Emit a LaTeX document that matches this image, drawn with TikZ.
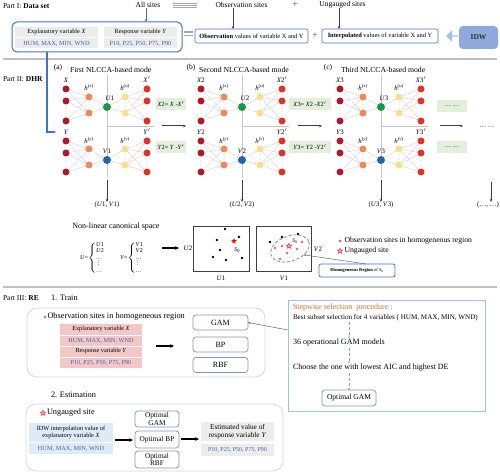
\documentclass[tikz,border=0pt]{standalone}
\usepackage{fontspec}
\setmainfont{Liberation Serif}
\usetikzlibrary{arrows.meta,shapes.geometric,shapes.arrows,calc}
\definecolor{cin}{RGB}{178,24,43}
\definecolor{chid}{RGB}{241,136,92}
\definecolor{cun}{RGB}{26,152,72}
\definecolor{chu}{RGB}{254,222,140}
\definecolor{cout}{RGB}{224,50,40}
\definecolor{cvn}{RGB}{33,102,172}
\definecolor{lgreen}{RGB}{226,239,218}
\definecolor{lpink}{RGB}{243,199,197}
\definecolor{lgray}{RGB}{236,236,236}
\definecolor{lblue}{RGB}{222,235,247}
\definecolor{tblue}{RGB}{64,100,178}
\definecolor{bblue}{RGB}{68,114,196}
\definecolor{mbord}{RGB}{132,151,176}
\definecolor{idwc}{RGB}{142,169,219}
\definecolor{arrc}{RGB}{157,195,230}
\definecolor{sepc}{RGB}{191,191,191}
\definecolor{orc}{RGB}{214,110,50}
\definecolor{redpt}{RGB}{238,96,96}
\newcommand{\fzz}[2]{\fontsize{#1}{#2}\selectfont}
\newcommand{\iv}[1]{\textit{#1}}
\newcommand{\smvd}{\vbox{\baselineskip2.2pt\lineskiplimit0pt\hbox{.}\hbox{.}\hbox{.}}}
\tikzset{
  every node/.style={inner sep=0pt,outer sep=0pt},
  neur/.style={circle,minimum size=7pt,draw=none},
  inn/.style={neur,fill=cin},
  hidn/.style={neur,fill=chid},
  hun/.style={neur,fill=chu},
  outn/.style={neur,fill=cout},
  unode/.style={neur,minimum size=8pt,fill=cun},
  vnode/.style={neur,minimum size=8pt,fill=cvn},
  conn/.style={draw=gray!40,line width=0.3pt,-{Stealth[length=1.6pt,width=1.4pt]}},
  axisl/.style={draw=gray!45,line width=0.6pt},
  lab/.style={font=\fzz{6.8}{7}},
  gbox/.style={fill=lgreen,minimum width=30pt,minimum height=12pt,font=\fzz{6.3}{7}},
  darr/.style={draw=black!75,line width=1pt,-{Stealth[length=3pt,width=2.6pt]}},
  karr/.style={draw=black,line width=1.3pt,-{Stealth[length=4pt,width=3.6pt]}},
  thinarr/.style={draw=gray!80!black,line width=0.5pt,-{Stealth[length=2.5pt,width=2pt]}},
  barr/.style={draw=bblue,line width=1.3pt,-{Stealth[length=3pt,width=2.6pt]}},
  sepl/.style={draw=sepc,line width=1.1pt},
  eqline/.style={draw=gray!70,line width=1.2pt},
  cell/.style={fill=lgray,minimum height=10pt,font=\fzz{6.3}{7}},
  obox/.style={draw=bblue,line width=0.6pt,rounded corners=2pt,minimum width=113pt,minimum height=14pt,font=\fzz{6.4}{7}},
  mbox/.style={draw=mbord,line width=0.7pt,rounded corners=3pt,minimum width=55pt,minimum height=15pt,font=\fzz{8}{8}},
  ombox/.style={draw=mbord,line width=0.7pt,rounded corners=3pt,minimum width=44pt,font=\fzz{7.3}{7.8},align=center},
  pcell/.style={fill=lpink,minimum width=82pt,minimum height=11pt,font=\fzz{6.2}{7}},
  rbox/.style={draw=gray!30,line width=0.8pt,rounded corners=10pt},
  txt/.style={anchor=west,font=\fzz{7.5}{9}},
  ctxt/.style={anchor=west,font=\fzz{8.3}{9}},
  stt/.style={anchor=west,font=\fzz{8}{9}},
  rstar/.style={star,star points=5,star point ratio=2.3,minimum size=6pt,draw=red!80,fill=red!25,line width=0.5pt},
  bluedash/.style={draw=arrc!80!blue,line width=0.6pt,densely dashed,-{Stealth[length=2pt,width=2pt]}},
}
\newcommand{\nlmode}[8]{%
\begin{scope}[xshift=#2]
 \draw[axisl] (107,75) -- (107,178);
 \draw[axisl] (107,126) -- (154,126);
 \foreach \k/\yy in {1/89,2/101,3/121}{
   \node[inn] (#1xi\k) at (66,\yy) {};
   \node[outn] (#1xo\k) at (147,\yy) {};}
 \foreach \k/\yy in {1/141,2/153,3/172}{
   \node[inn] (#1yi\k) at (66,\yy) {};
   \node[outn] (#1yo\k) at (147,\yy) {};}
 \foreach \k/\yy in {1/97,2/113}{
   \node[hidn] (#1xh\k) at (89,\yy) {};
   \node[hun] (#1uh\k) at (125,\yy) {};}
 \foreach \k/\yy in {1/149,2/165}{
   \node[hidn] (#1yh\k) at (89,\yy) {};
   \node[hun] (#1vh\k) at (125,\yy) {};}
 \node[unode] (#1u) at (107,107) {};
 \node[vnode] (#1v) at (107,160) {};
 \foreach \i in {1,2,3}{\foreach \j in {1,2}{
   \draw[conn] (#1xi\i) -- (#1xh\j);
   \draw[conn] (#1uh\j) -- (#1xo\i);
   \draw[conn] (#1yi\i) -- (#1yh\j);
   \draw[conn] (#1vh\j) -- (#1yo\i);}}
 \foreach \j in {1,2}{
   \draw[conn] (#1xh\j) -- (#1u);
   \draw[conn] (#1u) -- (#1uh\j);
   \draw[conn] (#1yh\j) -- (#1v);
   \draw[conn] (#1v) -- (#1vh\j);}
 \foreach \xx/\yy in {66/111,147/111,66/163,147/163,89/105,125/105,89/157,125/157}{
   \foreach \dd in {-2.2,0,2.2} \fill[gray!70] (\xx,\yy+\dd) circle (0.4pt);}
 \node[lab] (#1lx) at (66,80) {#3};
 \node[lab] (#1lxo) at (147,80) {#4};
 \node[lab] (#1ly) at (66,132) {#5};
 \node[lab] (#1lyo) at (147,132) {#6};
 \node[lab] (#1lhx) at (89,87) {\iv{h}\textsuperscript{(\iv{x})}};
 \node[lab] (#1lhu) at (125,87) {\iv{h}\textsuperscript{(\iv{u})}};
 \node[lab] (#1lhy) at (89,140) {\iv{h}\textsuperscript{(\iv{y})}};
 \node[lab] (#1lhv) at (125,140) {\iv{h}\textsuperscript{(\iv{v})}};
 \node[lab] (#1lu) at (110,98) {#7};
 \node[lab] (#1lv) at (107,151) {#8};
\end{scope}}
\begin{document}
\begin{tikzpicture}[x=1pt,y=-1pt]
\useasboundingbox (0,0) rectangle (500,473);
\fill[white] (0,0) rectangle (500,473);

% ---------- Part I
\node[txt] (p1) at (3,6) {Part I: \textbf{Data set}};
\node[font=\fzz{7.5}{9}] (alls) at (148,5) {All sites};
\node[font=\fzz{7.5}{9}] (obss) at (241.5,5) {Observation sites};
\node[font=\fzz{7.5}{9}] (ungs) at (342.5,5) {Ungauged sites};
\draw[eqline] (173,3.4) -- (197,3.4);
\draw[eqline] (173,5.4) -- (197,5.4);
\draw[eqline] (173,7.4) -- (197,7.4);
\node[font=\bfseries\fzz{10}{10},text=gray] (plus1) at (295,5) {+};

\node[draw=bblue,line width=1pt,rounded corners=5pt,minimum width=170pt,minimum height=30pt] (ds) at (97,37) {};
\node[cell,minimum width=83pt] (exh) at (56.5,32) {Explanatory variable \iv{X}};
\node[cell,minimum width=83pt,text=tblue] (exv) at (56.5,43.5) {HUM, MAX, MIN, WND};
\node[cell,minimum width=73pt] (reh) at (140.5,32) {Response variable \iv{Y}};
\node[cell,minimum width=73pt,text=tblue] (rev) at (140.5,43.5) {P10, P25, P50, P75, P90};
\draw[barr,line width=1pt] ([xshift=-2pt]alls.south) -- ([xshift=-2pt]alls.south |- ds.north);

\draw[eqline] (184,32) -- (193,32);
\draw[eqline] (184,35.5) -- (193,35.5);
\node[obox] (ob) at (251.5,36) {\textbf{Observation} values of variable X and Y};
\node[font=\bfseries\fzz{10}{10},text=gray] (plus2) at (315,36) {+};
\node[obox,minimum width=116pt] (ip) at (380,36) {\textbf{Interpolated} values of variable X and Y};
\draw[darr,line width=0.8pt] ([xshift=-8.5pt]obss.south) -- ([xshift=-8.5pt]obss.south |- ob.north);
\draw[darr,line width=0.8pt] ([xshift=-3.5pt]ungs.south) -- ([xshift=-3.5pt]ungs.south |- ip.north);
\node[single arrow,fill=arrc,minimum height=12pt,minimum width=12pt,single arrow head extend=1.5pt,shape border rotate=180] (blk) at (452.5,36) {};
\node[fill=idwc,rounded corners=4pt,minimum width=39pt,minimum height=23pt,font=\bfseries\fzz{7.5}{9},text=black!80] (idw) at (478.5,37.5) {IDW};

\draw[sepl] (3,59) -- (497,59);
\coordinate (ylead) at (56,132);
\draw[barr] ([xshift=-50pt]ds.south) |- (ylead);

% ---------- Part II
\node[txt] (p2) at (3,79) {Part II: \textbf{DHR}};
\node[font=\fzz{7.5}{8}] (ta) at (58,68) {(a)};
\node[anchor=west,font=\fzz{7.7}{8}] (tta) at (70,70) {First NLCCA-based mode};
\node[font=\fzz{7.5}{8}] (tb) at (191,68) {(b)};
\node[anchor=west,font=\fzz{7.7}{8}] (ttb) at (199,70) {Second NLCCA-based mode};
\node[font=\fzz{7.5}{8}] (tc) at (328,68) {(c)};
\node[anchor=west,font=\fzz{7.7}{8}] (ttc) at (341,70) {Third NLCCA-based mode};

\nlmode{a}{0pt}{\iv{X}}{\iv{X}$'$}{\iv{Y}}{\iv{Y}$'$}{\iv{U}1}{\iv{V}1}
\nlmode{b}{135pt}{\iv{X}2}{\iv{X}2$'$}{\iv{Y}2}{\iv{Y}2$'$}{\iv{U}2}{\iv{V}2}
\nlmode{c}{274pt}{\iv{X}3}{\iv{X}3$'$}{\iv{Y}3}{\iv{Y}3$'$}{\iv{U}3}{\iv{V}3}

\node[gbox] (rx2) at (171,104) {\iv{X}2= \iv{X} -\iv{X}$'$};
\node[gbox] (ry2) at (171,147) {\iv{Y}2= \iv{Y} -\iv{Y}$'$};
\node[gbox,minimum width=42pt] (rx3) at (310,104) {\iv{X}3= \iv{X}2 -\iv{X}2$'$};
\node[gbox,minimum width=42pt] (ry3) at (310,147) {\iv{Y}3= \iv{Y}2 -\iv{Y}2$'$};
\node[gbox] (rx4) at (452,106) {\dots\ \dots};
\node[gbox] (ry4) at (452,147.5) {\dots\ \dots};

\coordinate (m1s) at (162,126); \coordinate (m1e) at (186,126);
\coordinate (m2s) at (298,126); \coordinate (m2e) at (322,126);
\coordinate (m3s) at (440,126); \coordinate (m3e) at (463,126);
\draw[darr] (m1s) -- (m1e);
\draw[darr] (m2s) -- (m2e);
\draw[darr] (m3s) -- (m3e);
\node[font=\fzz{6.5}{7}] (more) at (487,127) {\dots\ \dots};

\node[lab] (uv1) at (107,205) {(\iv{U}1, \iv{V}1)};
\node[lab] (uv2) at (242,205) {(\iv{U}2, \iv{V}2)};
\node[lab] (uv3) at (381,205) {(\iv{U}3, \iv{V}3)};
\node[lab] (uv4) at (488,205) {(\dots, \dots)};
\coordinate (da1) at (107,180); \coordinate (da2) at (242,180);
\coordinate (da3) at (381,180); \coordinate (da4) at (491,182);
\draw[darr,line width=0.8pt] (da1) -- (uv1.north);
\draw[darr,line width=0.8pt] (da2) -- (uv2.north);
\draw[darr,line width=0.8pt] (da3) -- (uv3.north);
\draw[darr,line width=0.8pt] (da4) -- (da4 |- uv4.north);

% canonical space
\node[font=\fzz{8}{8}] (ncs) at (116,227) {Non-linear canonical space};
\node[anchor=west,font=\fzz{6}{6.4}] (ubr) at (80,258) {\iv{U}=$\left\{\begin{array}{@{}l@{}}\mbox{\iv{U}1}\\ \mbox{\iv{U}2}\\ \mbox{\dots}\\ \mbox{\ \smvd}\\ \mbox{\dots}\end{array}\right.$};
\node[anchor=west,font=\fzz{6}{6.4}] (vbr) at (120,258) {\iv{V}=$\left\{\begin{array}{@{}l@{}}\mbox{\iv{V}1}\\ \mbox{\iv{V}2}\\ \mbox{\dots}\\ \mbox{\ \smvd}\\ \mbox{\dots}\end{array}\right.$};
\coordinate (ca1) at (162,248); \coordinate (ca2) at (179,248);
\draw[karr] (ca1) -- (ca2);

\node[draw=black!75,line width=1pt,minimum width=56pt,minimum height=45pt] (bxa) at (221,248.5) {};
\node[draw=black!75,line width=1pt,minimum width=55pt,minimum height=45pt] (bxb) at (283.5,248.5) {};
\node[lab] (lu2) at (188,248) {\iv{U}2};
\node[lab] (lu1) at (221,278) {\iv{U}1};
\node[lab] (lv2) at (318,249) {\iv{V}2};
\node[lab] (lv1) at (284,278) {\iv{V}1};
\foreach \px/\py in {225/229,217/240,239/237,220/250,213/257,226/260,242/258,270/242,282/237,298/234}
  \fill[black] (\px,\py) circle (1.4pt);
\node[star,star points=5,star point ratio=2.3,minimum size=6pt,fill=red] (sa) at (234,241) {};
\node[font=\fzz{6}{7}] (sal) at (237,250) {\iv{S}\textsubscript{0}};
\node[ellipse,draw=bblue!80,densely dashed,line width=0.8pt,minimum width=40pt,minimum height=25pt,rotate=20] (hreg) at (290,248.5) {};
\foreach \px/\py in {275/248,282/246,297/249,302/242,287/253,280/259}
  \fill[redpt] (\px,\py) circle (1.4pt);
\node[rstar,minimum size=5.5pt] (sb) at (289,246) {};
\node[font=\fzz{5.5}{6}] (sbl) at (295,241) {\iv{S}\textsubscript{0}};

\fill[redpt] (340,241) circle (1.5pt);
\node[anchor=west,font=\fzz{7.7}{8}] (lg1) at (344.5,241) {Observation sites in homogeneous region};
\node[rstar,minimum size=5.5pt] (lgs) at (340,251) {};
\node[anchor=west,font=\fzz{7.7}{8}] (lg2) at (344.5,251) {Ungauged site};
\node[draw=bblue,line width=0.8pt,rounded corners=2pt,minimum width=76pt,minimum height=13pt,font=\fzz{4.6}{5}] (hbox) at (357,270.5) {\textbf{Homogeneous Region} of \iv{S}\textsubscript{0}};
\draw[thinarr] ([xshift=9pt]hbox.north) -- (hreg.-45);

\draw[sepl] (3,287) -- (497,287);

% ---------- Part III
\node[txt] (p3) at (3,298) {Part III: \textbf{RE}};
\node[ctxt] (s1) at (51,298) {1. Train};
\node[rbox,minimum width=238pt,minimum height=69pt] (trbox) at (146,342.5) {};
\fill[redpt] (45,317) circle (1.4pt);
\node[ctxt] (tro) at (47.5,317) {Observation sites in homogeneous region};
\node[pcell] (pt1) at (101,329.5) {Explanatory variable \iv{X}};
\node[pcell,text=tblue] (pt2) at (101,340.5) {HUM, MAX, MIN, WND};
\node[pcell] (pt3) at (101,351.5) {Response variable \iv{Y}};
\node[pcell,text=tblue] (pt4) at (101,362.5) {P10, P25, P50, P75, P90};
\draw[white,line width=0.5pt] (pt1.south west) -- (pt1.south east);
\draw[white,line width=0.5pt] (pt2.south west) -- (pt2.south east);
\draw[white,line width=0.5pt] (pt3.south west) -- (pt3.south east);
\coordinate (ta1) at (156,346); \coordinate (ta2) at (174,346);
\draw[karr] (ta1) -- (ta2);
\node[mbox] (gam) at (220.5,322.5) {GAM};
\node[mbox] (bp) at (220.5,344.5) {BP};
\node[mbox] (rbf) at (220.5,365) {RBF};

\node[draw=arrc,line width=0.8pt,minimum width=197pt,minimum height=111pt] (stepbox) at (386.5,355.5) {};
\node[stt,text=orc] (st1) at (293,308) {Stepwise selection\ \ procedure :};
\node[stt,font=\fzz{7.1}{9}] (st2) at (293,318) {Best subset selection for 4 variables ( HUM, MAX, MIN, WND)};
\node[stt] (st3) at (293,343) {36 operational GAM models};
\node[stt] (st4) at (293,368) {Choose the one with lowest AIC and highest DE};
\node[draw=mbord,line width=0.7pt,rounded corners=3pt,minimum width=54pt,minimum height=16pt,font=\fzz{7.5}{8}] (optg) at (349,398) {Optimal GAM};
\draw[bluedash] ([yshift=-1pt]st2.south -| optg.north) -- ([yshift=1pt]st3.north -| optg.north);
\draw[bluedash] ([yshift=-1pt]st3.south -| optg.north) -- ([yshift=1pt]st4.north -| optg.north);
\draw[bluedash] ([yshift=-1pt]st4.south -| optg.north) -- (optg.north);
\draw[thinarr] ($(stepbox.north west)+(0,30)$) -- (gam.east);

\node[ctxt] (s2) at (51,395) {2. Estimation};
\node[rbox,minimum width=257pt,minimum height=67pt] (esbox) at (154.5,437.5) {};
\node[rstar,minimum size=5.5pt] (esst) at (43,413) {};
\node[ctxt] (eso) at (47,413) {Ungauged site};
\node[fill=lblue,minimum width=84pt,minimum height=19pt,font=\fzz{6.3}{7.6},align=center] (bt1) at (71,432.5) {IDW interpolation value of\\explanatory variable \iv{X}};
\node[fill=lblue,minimum width=84pt,minimum height=11pt,font=\fzz{6.3}{7},text=tblue] (bt2) at (71,448.5) {HUM, MAX, MIN, WND};
\coordinate (ea1) at (115,440); \coordinate (ea2) at (133,440);
\draw[karr] (ea1) -- (ea2);
\node[ombox,minimum height=16pt] (og) at (157,419) {Optimal\\GAM};
\node[ombox,minimum height=17pt] (obp) at (157,439.5) {Optimal BP};
\node[ombox,minimum height=17pt] (orb) at (157,459.5) {Optimal\\RBF};
\coordinate (eb1) at (181,439); \coordinate (eb2) at (199,439);
\draw[karr] (eb1) -- (eb2);
\node[fill=lgray,minimum width=73pt,minimum height=20pt,font=\fzz{7.3}{8.2},align=center] (et1) at (237.5,431.5) {Estimated value of\\response variable \iv{Y}};
\node[fill=lgray,minimum width=73pt,minimum height=12pt,font=\fzz{6}{7},text=tblue] (et2) at (237.5,449.5) {P10, P25, P50, P75, P90};
\draw[white,line width=0.6pt] (et1.south west) -- (et1.south east);
\end{tikzpicture}
\end{document}
